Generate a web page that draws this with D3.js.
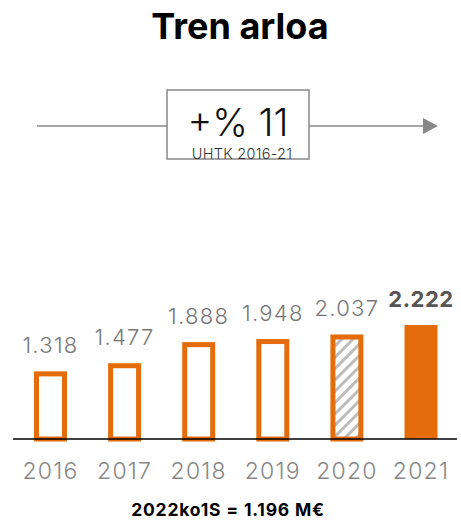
<!DOCTYPE html>
<html>
<head>
<meta charset="utf-8">
<script src="https://cdn.jsdelivr.net/npm/d3@7"></script>
<style>
  body { margin: 0; background: #fff; }
  svg text { font-family: Inter, "Noto Sans", sans-serif; }
</style>
</head>
<body>
<div id="chart"></div>
<script>
var years = ["2016", "2017", "2018", "2019", "2020", "2021"];
var values = [1318, 1477, 1888, 1948, 2037, 2222];
var valueLabels = ["1.318", "1.477", "1.888", "1.948", "2.037", "2.222"];
var barStyle = ["outline", "outline", "outline", "outline", "hatch", "solid"];
var titleText = "Tren arloa";
var growthText = "+% 11";
var growthSub = "UHTK 2016-21";
var footText = "2022ko1S = 1.196 M€";

var svgWidth = 461, svgHeight = 520;
var orange = "#E46C0A";

var svg = d3.select("#chart").append("svg")
    .attr("width", svgWidth)
    .attr("height", svgHeight);

var defs = svg.append("defs");
var pat = defs.append("pattern")
    .attr("id", "hatch")
    .attr("patternUnits", "userSpaceOnUse")
    .attr("width", 8).attr("height", 8)
    .attr("patternTransform", "rotate(45)");
pat.append("rect").attr("width", 8).attr("height", 8).attr("fill", "#fff");
pat.append("rect").attr("x", 0).attr("width", 3).attr("height", 8).attr("fill", "#bdbdbd");

// title
svg.append("text")
    .attr("x", 240).attr("y", 39)
    .attr("text-anchor", "middle")
    .style("font-size", "36px")
    .style("font-weight", "bold")
    .attr("fill", "#000")
    .text(titleText);

// growth arrow + box
svg.append("line")
    .attr("x1", 37).attr("x2", 424)
    .attr("y1", 126).attr("y2", 126)
    .attr("stroke", "#888").attr("stroke-width", 1.5);
svg.append("path")
    .attr("d", "M423,118 L438,126 L423,134 Z")
    .attr("fill", "#888");
svg.append("rect")
    .attr("x", 167).attr("y", 90)
    .attr("width", 142).attr("height", 69)
    .attr("fill", "#fff")
    .attr("stroke", "#888").attr("stroke-width", 1.5);
svg.append("text")
    .attr("x", 238).attr("y", 136)
    .attr("text-anchor", "middle")
    .style("font-size", "38px")
    .style("font-weight", 300)
    .attr("fill", "#111")
    .text(growthText);
svg.append("text")
    .attr("x", 242).attr("y", 159)
    .attr("text-anchor", "middle")
    .style("font-size", "14.5px")
    .style("letter-spacing", "0.3px")
    .style("font-weight", 300)
    .attr("fill", "#333")
    .text(growthSub);

// bars
var baseY = 439;

var x = d3.scaleBand()
    .domain(years)
    .range([34, 437.5])
    .paddingInner(0.555)
    .paddingOuter(0);

var y = d3.scaleLinear()
    .domain([0, 2222])
    .range([baseY, 325]);

var sw = 5;
var bars = svg.selectAll("g.bar")
    .data(years)
    .enter().append("g")
    .attr("class", "bar");

bars.append("rect")
    .attr("x", function(d, i) { return barStyle[i] === "solid" ? x(d) : x(d) + sw / 2; })
    .attr("y", function(d, i) { return barStyle[i] === "solid" ? y(values[i]) : y(values[i]) + sw / 2; })
    .attr("width", function(d, i) { return barStyle[i] === "solid" ? x.bandwidth() : x.bandwidth() - sw; })
    .attr("height", function(d, i) {
        return barStyle[i] === "solid" ? baseY - y(values[i]) : baseY - y(values[i]) - sw / 2;
    })
    .attr("fill", function(d, i) {
        if (barStyle[i] === "hatch") return "url(#hatch)";
        if (barStyle[i] === "solid") return orange;
        return "#fff";
    })
    .attr("stroke", orange)
    .attr("stroke-width", function(d, i) { return barStyle[i] === "solid" ? 0 : sw; });

bars.append("text")
    .attr("x", function(d) { return x(d) + x.bandwidth() / 2; })
    .attr("y", function(d, i) { return y(values[i]) - 18; })
    .attr("text-anchor", "middle")
    .style("font-size", "22px")
    .style("letter-spacing", function(d, i) { return i === 5 ? "0.5px" : "1.3px"; })
    .style("font-weight", function(d, i) { return i === 5 ? "bold" : 300; })
    .attr("fill", function(d, i) { return i === 5 ? "#555" : "#777"; })
    .text(function(d, i) { return valueLabels[i]; });

// baseline axis
var xAxis = d3.axisBottom(x).tickSize(0).tickPadding(24);
var gx = svg.append("g")
    .attr("transform", "translate(0," + baseY + ")")
    .call(xAxis);
gx.select(".domain")
    .attr("d", "M13,0H457")
    .attr("stroke", "#000").attr("stroke-width", 1.5);
gx.selectAll("text")
    .style("font-size", "23px")
    .style("letter-spacing", "1.2px")
    .style("font-family", "Inter, 'Noto Sans', sans-serif")
    .style("font-weight", 300)
    .attr("fill", "#888");

// footnote
svg.append("text")
    .attr("x", 228).attr("y", 516)
    .attr("text-anchor", "middle")
    .style("font-size", "17.5px")
    .style("letter-spacing", "0.8px")
    .style("font-weight", "bold")
    .attr("fill", "#000")
    .text(footText);
</script>
</body>
</html>
